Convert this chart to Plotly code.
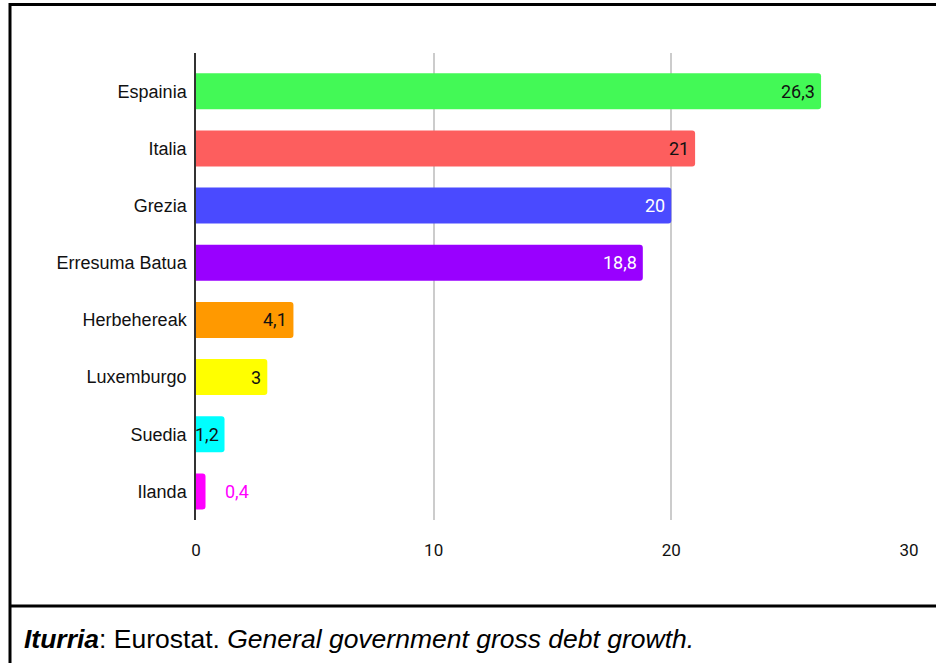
import plotly.graph_objects as go

countries = ["Espainia", "Italia", "Grezia", "Erresuma Batua", "Herbehereak",
             "Luxemburgo", "Suedia", "Ilanda"]
values = [26.3, 21, 20, 18.8, 4.1, 3, 1.2, 0.4]
labels = ["26,3", "21", "20", "18,8", "4,1", "3", "1,2", "0,4"]
bar_colors = ["#43f956", "#fd5e5e", "#4a4aff", "#9900ff", "#ff9900",
              "#ffff00", "#00ffff", "#ff00ff"]
label_colors = ["#111111", "#111111", "#ffffff", "#ffffff", "#111111",
                "#111111", "#111111", "#ff00ff"]
label_inside = [True, True, True, True, True, True, True, False]
x_ticks = [0, 10, 20, 30]

W, H = 936, 663
L, R, T, B = 196, 27, 53, 143
pw, ph = W - L - R, H - T - B


def px_x(p):
    return (p - L) / pw


def px_y(q):
    return (H - B - q) / ph


fig = go.Figure(go.Bar(
    y=countries, x=values, orientation="h",
    marker=dict(color=bar_colors, line=dict(width=0)),
    hoverinfo="skip",
))

for c, v, t, col, ins in zip(countries, values, labels, label_colors, label_inside):
    fig.add_annotation(
        x=v, y=c, xref="x", yref="y", text=t, showarrow=False,
        xanchor="right" if ins else "left", xshift=-4 if ins else 17,
        font=dict(family="Roboto", size=18, color=col),
    )

# caption
fig.add_annotation(
    xref="paper", yref="paper", x=px_x(22), y=px_y(639), xanchor="left", yanchor="middle",
    text="<b><i>Iturria</i></b>: Eurostat. <i>General government gross debt growth.</i>",
    showarrow=False, font=dict(family="Liberation Sans", size=26.5, color="#000000"),
)

# frame lines
line_style = dict(color="#000000", width=3)
fig.add_shape(type="line", xref="paper", yref="paper",
              x0=px_x(9), x1=px_x(W + 5), y0=px_y(4.5), y1=px_y(4.5), line=line_style)
fig.add_shape(type="line", xref="paper", yref="paper",
              x0=px_x(10), x1=px_x(10), y0=px_y(3), y1=px_y(H + 5), line=line_style)
fig.add_shape(type="line", xref="paper", yref="paper",
              x0=px_x(9), x1=px_x(W + 5), y0=px_y(606), y1=px_y(606), line=line_style)

fig.update_layout(
    width=W, height=H,
    margin=dict(l=L, r=R, t=T, b=B),
    paper_bgcolor="#ffffff", plot_bgcolor="#ffffff",
    showlegend=False,
    bargap=0.37,
    barcornerradius=3,
    xaxis=dict(
        range=[0, 30], tickvals=x_ticks, ticktext=[str(t) for t in x_ticks],
        showgrid=True, gridcolor="#cccccc", gridwidth=1.5,
        zeroline=False, showline=False,
        tickfont=dict(family="Roboto", size=17, color="#111111"),
        ticklabelstandoff=18,
    ),
    yaxis=dict(
        type="category", categoryorder="array", categoryarray=countries,
        range=[7.5, -0.67],
        showgrid=False, zeroline=False,
        showline=True, linecolor="#333333", linewidth=1.5,
        tickfont=dict(family="Liberation Sans", size=18, color="#111111"),
        ticklabelstandoff=4,
    ),
)

fig.write_html("out.html")
